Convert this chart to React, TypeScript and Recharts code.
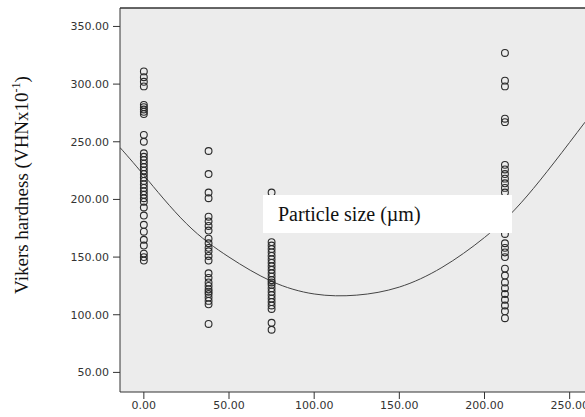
import {
  ComposedChart,
  Scatter,
  Line,
  XAxis,
  YAxis,
  CartesianGrid,
  ReferenceLine,
} from "recharts";

// particle sizes (µm) and hardness readings per size group
const sizes = [0, 38, 75, 212];
const hardness0 = [
  311, 306, 302, 298, 282, 280, 278, 276, 274, 256, 250, 240, 237, 234, 231,
  228, 225, 222, 219, 216, 213, 210, 207, 204, 201, 198, 193, 186, 178, 172,
  165, 160, 153, 150, 147,
];
const hardness38 = [
  242, 222, 206, 201, 185, 181, 177, 173, 166, 162, 158, 155, 151, 147, 136,
  132, 128, 125, 122, 120, 118, 115, 112, 109, 92,
];
const hardness75 = [
  206, 163, 160, 157, 154, 151, 148, 145, 142, 139, 136, 133, 130, 128, 126,
  123, 120, 117, 114, 111, 108, 105, 93, 87,
];
const hardness212 = [
  327, 303, 298, 270, 267, 230, 226, 222, 218, 214, 210, 206, 190, 180, 170,
  162, 158, 154, 150, 140, 134, 128, 123, 118, 113, 108, 103, 97,
];

// quadratic fit line
const fitX = [-14, 0, 25, 50, 75, 100, 125, 150, 175, 200, 225, 259];
const fitY = [245, 221, 179, 150, 129, 118, 117, 124, 141, 167, 203, 267];

const xTicks = [0, 50, 100, 150, 200, 250];
const yTicks = [50, 100, 150, 200, 250, 300, 350];

const groups = [hardness0, hardness38, hardness75, hardness212];
const points = groups.flatMap((vals, i) =>
  vals.map((y) => ({ x: sizes[i], y }))
);
const fitData = fitX.map((x, i) => ({ x, y: fitY[i] }));

const tickStyle = {
  fill: "#333",
  fontSize: 11,
  fontFamily: "DejaVu Sans",
};

const OpenCircle = (props: any) => (
  <circle
    cx={props.cx}
    cy={props.cy}
    r={3.4}
    fill="none"
    stroke="#2a2a2a"
    strokeWidth={1.1}
  />
);

export default function App() {
  return (
    <div
      style={{
        position: "fixed",
        left: 0,
        top: 0,
        width: 585,
        height: 417,
        background: "#fff",
        overflow: "hidden",
      }}
    >
      <ComposedChart
        width={585}
        height={417}
        margin={{ top: 8, right: 0, left: 0, bottom: 0 }}
      >
        <CartesianGrid
          horizontal={false}
          vertical={false}
          fill="#ececec"
          fillOpacity={1}
        />
        <XAxis
          type="number"
          dataKey="x"
          domain={[-14, 259]}
          ticks={xTicks}
          allowDataOverflow
          height={25}
          tickSize={7}
          tickMargin={2}
          tick={tickStyle}
          stroke="#333"
          tickFormatter={(v: number) => v.toFixed(2)}
        />
        <YAxis
          type="number"
          dataKey="y"
          domain={[33, 366]}
          ticks={yTicks}
          allowDataOverflow
          width={120}
          tickSize={7}
          tickMargin={4}
          tick={tickStyle}
          stroke="#333"
          tickFormatter={(v: number) => v.toFixed(2)}
        />
        <ReferenceLine y={366} stroke="#333" strokeWidth={1.5} />
        <Line
          data={fitData}
          dataKey="y"
          type="natural"
          stroke="#444"
          strokeWidth={1}
          dot={false}
          isAnimationActive={false}
        />
        <Scatter
          data={points}
          dataKey="y"
          shape={OpenCircle}
          isAnimationActive={false}
        />
      </ComposedChart>

      <div
        style={{
          position: "absolute",
          left: 263,
          top: 195,
          width: 249,
          height: 38,
          background: "#fff",
          fontFamily: "Liberation Serif",
          fontSize: 20,
          color: "#111",
          lineHeight: "38px",
          paddingLeft: 15,
          boxSizing: "border-box",
        }}
      >
        Particle size (µm)
      </div>

      <div
        style={{
          position: "absolute",
          left: 21,
          top: 185,
          transform: "translate(-50%, -50%) rotate(-90deg)",
          whiteSpace: "nowrap",
          fontFamily: "Liberation Serif",
          fontSize: 19,
          color: "#111",
        }}
      >
        Vikers hardness (VHNx10
        <sup style={{ fontSize: 12 }}>-1</sup>)
      </div>
    </div>
  );
}
